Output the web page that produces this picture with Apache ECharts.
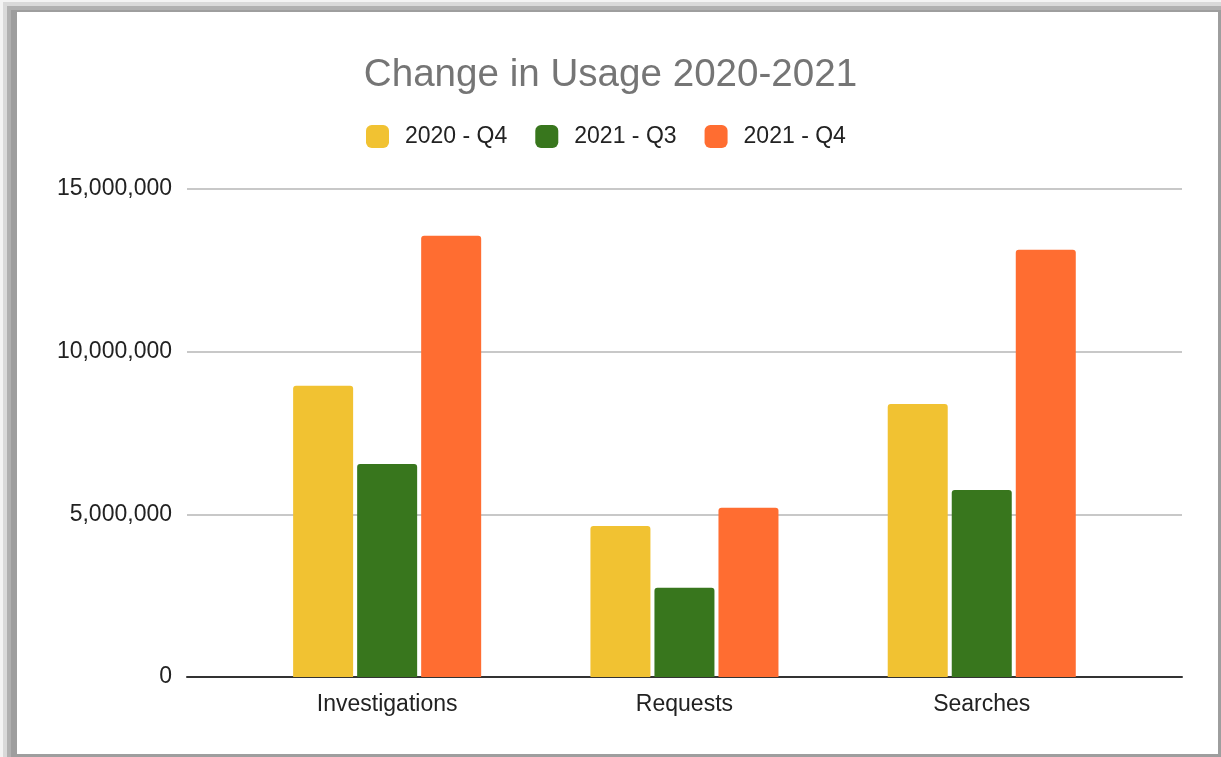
<!DOCTYPE html>
<html><head><meta charset="utf-8">
<script src="https://cdn.jsdelivr.net/npm/echarts@6/dist/echarts.min.js"></script>
<style>
html,body{margin:0;padding:0;background:#fff;width:1221px;height:757px;overflow:hidden;}
.l{position:absolute;right:0;bottom:0;}
#chart{position:absolute;left:0;top:0;width:1221px;height:757px;}
</style></head>
<body>
<div class="l" style="left:0;top:0;background:#f3f3f3"></div>
<div class="l" style="left:3px;top:2px;background:#d9d9d9"></div>
<div class="l" style="left:7px;top:6px;background:#b0b0b0"></div>
<div class="l" style="left:11px;top:10px;background:#9e9e9e"></div>
<div style="position:absolute;left:17px;top:12px;width:1201px;height:742px;background:#fff"></div>
<div id="chart"></div>
<script>
var categories = ['Investigations', 'Requests', 'Searches'];
var seriesNames = ['2020 - Q4', '2021 - Q3', '2021 - Q4'];
var q4_2020 = [8950000, 4640000, 8390000];
var q3_2021 = [6550000, 2740000, 5750000];
var q4_2021 = [13560000, 5200000, 13130000];
var colors = ['#f1c232', '#38761d', '#ff6d31'];
var font = '"Liberation Sans", Arial, sans-serif';

var chart = echarts.init(document.getElementById('chart'), null, {renderer: 'canvas'});
var vals = [q4_2020, q3_2021, q4_2021];
var series = seriesNames.map(function (n, i) {
  return {
    name: n, type: 'bar', xAxisIndex: 1, yAxisIndex: 1,
    data: vals[i], barWidth: 60, barGap: '6.7%',
    itemStyle: {color: colors[i], borderRadius: [3, 3, 0, 0]}
  };
});
chart.setOption({
  animation: false,
  color: colors,
  title: {
    text: 'Change in Usage 2020-2021', left: 'center', top: 51,
    textStyle: {fontFamily: font, fontSize: 38.6, fontWeight: 'normal', color: '#757575'}
  },
  legend: {
    data: seriesNames, left: 361, top: 120, itemWidth: 23, itemHeight: 23,
    itemGap: 28, icon: 'roundRect',
    textStyle: {fontFamily: font, fontSize: 23, color: '#222', padding: [0, 0, 0, 11]}
  },
  grid: [
    {left: 187, right: 39, top: 189, bottom: 80},
    {left: 238.5, right: 90.6, top: 189, bottom: 80}
  ],
  xAxis: [
    {type: 'value', gridIndex: 0, min: 0, max: 1, show: true,
     axisLabel: {show: false}, splitLine: {show: false}, axisTick: {show: false},
     axisLine: {show: true, lineStyle: {color: '#333', width: 2}}},
    {type: 'category', gridIndex: 1, data: categories,
     axisLine: {show: false}, axisTick: {show: false},
     axisLabel: {margin: 16, fontFamily: font, fontSize: 23, color: '#222'}}
  ],
  yAxis: [
    {type: 'value', gridIndex: 0, min: 0, max: 15000000, interval: 5000000,
     axisLine: {show: false}, axisTick: {show: false},
     axisLabel: {margin: 15, fontFamily: font, fontSize: 23, color: '#222',
       formatter: function (v) { return v.toLocaleString('en-US'); }},
     splitLine: {show: true, lineStyle: {color: '#c8c8c8', width: 2}}},
    {type: 'value', gridIndex: 1, min: 0, max: 15000000, show: false, splitLine: {show: false}}
  ],
  series: series
});
</script>
</body></html>
